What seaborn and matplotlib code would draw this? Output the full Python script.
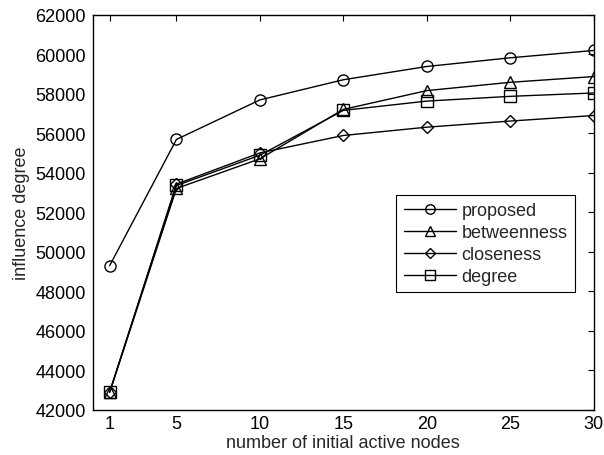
import pandas as pd
import numpy as np
import matplotlib
matplotlib.use("Agg")
import matplotlib.pyplot as plt
import seaborn as sns

sns.set_style("white")
plt.rcParams['font.family'] = ['Liberation Sans', 'DejaVu Sans']

# data
nodes = [1, 5, 10, 15, 20, 25, 30]
proposed = [49300, 55680, 57680, 58700, 59370, 59810, 60180]
betweenness = [42900, 53200, 54700, 57200, 58150, 58570, 58860]
closeness = [42900, 53420, 55000, 55880, 56300, 56610, 56890]
degree = [42900, 53350, 54880, 57150, 57620, 57860, 58030]

series = {"proposed": (proposed, "o"),
          "betweenness": (betweenness, "^"),
          "closeness": (closeness, "D"),
          "degree": (degree, "s")}

fig = plt.figure(figsize=(6.04, 4.56), dpi=100)
ax = fig.add_axes([0.154, 0.099, 0.829, 0.867])

for name, (vals, mk) in series.items():
    df = pd.DataFrame({"nodes": nodes, "value": vals})
    ms = 6.5 if mk == "D" else 8
    sns.lineplot(data=df, x="nodes", y="value", ax=ax, color="k", lw=1,
                 marker=mk, markersize=ms, markerfacecolor="none",
                 markeredgecolor="k", markeredgewidth=1, label=name)

ax.set_xlim(0, 30)
ax.set_ylim(42000, 62000)
ax.set_xticks(nodes)
ax.set_yticks(np.arange(42000, 62001, 2000))
ax.tick_params(direction="in", top=True, right=True, length=4, width=0.8,
               labelsize=13, colors="k", pad=4)
ax.tick_params(axis="y", pad=5)
for s in ax.spines.values():
    s.set_visible(True)
    s.set_color("k")
    s.set_linewidth(1)

ax.set_xlabel("number of initial active nodes", fontsize=13, labelpad=1.5)
ax.set_ylabel("influence degree", fontsize=13, labelpad=4)

leg = ax.legend(loc="lower right", bbox_to_anchor=(0.962, 0.297), fontsize=13,
                frameon=True, fancybox=False, edgecolor="k", framealpha=1,
                handlelength=2.9, borderpad=0.4, labelspacing=0.28,
                handletextpad=0.3, borderaxespad=0, markerscale=0.85)
leg.get_frame().set_linewidth(0.8)

fig.savefig("out.png", dpi=100)
